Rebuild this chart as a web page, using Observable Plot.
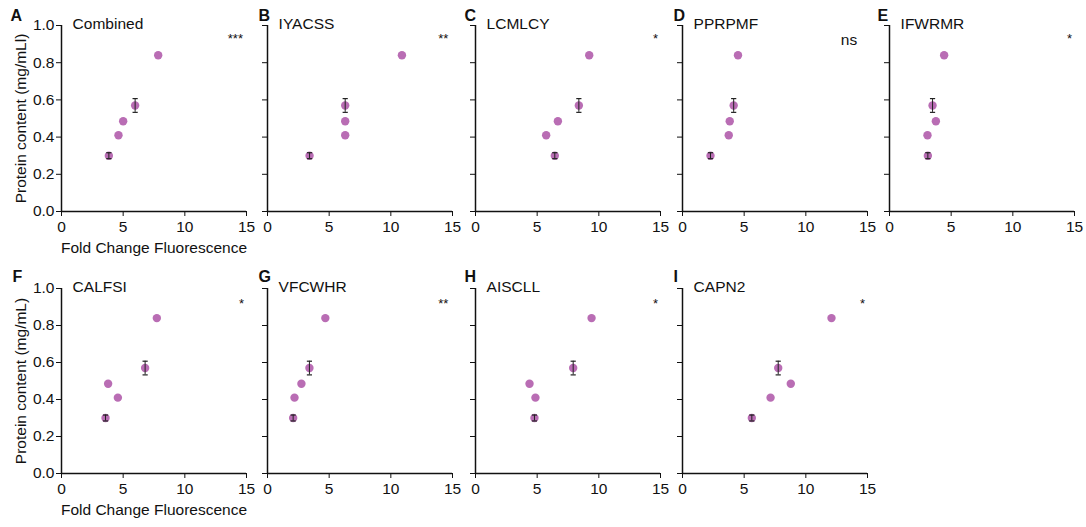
<!DOCTYPE html>
<html><head><meta charset="utf-8">
<script src="https://cdn.jsdelivr.net/npm/d3@7"></script>
<script src="https://cdn.jsdelivr.net/npm/@observablehq/plot@0.6"></script>
<style>
body{margin:0;background:#fff;font-family:"Liberation Sans",Arial,sans-serif;}
#wrap{position:relative;width:1086px;height:527px;overflow:hidden;}
#wrap svg{position:absolute;overflow:visible;background:transparent;}
</style></head><body><div id="wrap"></div>
<script>
// ---------- data ----------
const panelLetters = ["A","B","C","D","E","F","G","H","I"];
const panelNames = ["Combined","IYACSS","LCMLCY","PPRPMF","IFWRMR","CALFSI","VFCWHR","AISCLL","CAPN2"];
const significance = ["***","**","*","ns","*","*","**","*","*"];
const proteinLevels = [0.30, 0.41, 0.485, 0.57, 0.84];
const proteinErr = [0.016, 0, 0, 0.037, 0];
const foldA = [3.84, 4.62, 5.00, 5.97, 7.84];
const foldB = [3.41, 6.30, 6.30, 6.30, 10.90];
const foldC = [6.43, 5.73, 6.68, 8.38, 9.22];
const foldD = [2.27, 3.75, 3.83, 4.15, 4.50];
const foldE = [3.11, 3.08, 3.76, 3.49, 4.43];
const foldF = [3.57, 4.57, 3.78, 6.78, 7.73];
const foldG = [2.08, 2.19, 2.75, 3.40, 4.69];
const foldH = [4.78, 4.86, 4.38, 7.92, 9.41];
const foldI = [5.62, 7.14, 8.78, 7.76, 12.08];
const foldChange = [foldA, foldB, foldC, foldD, foldE, foldF, foldG, foldH, foldI];
const xTicks = [0, 5, 10, 15];
const yTicks = [0, 0.2, 0.4, 0.6, 0.8, 1.0];
const xLabel = "Fold Change Fluorescence";
const yLabels = ["Protein content (mg/mLl)", "Protein content (mg/mL)"];

// ---------- layout ----------
const axisLeft = [[61, 267, 475, 682, 889], [61, 267, 475, 682]];
const letterDx = [[-51, -9, -11, -9, -12], [-49, -9, -11, -9]];
const rowTop = [0, 260];
const rowMarginTop = [25, 28];
const rowPlotH = [186, 185];
const rowSvgH = [260, 267];
const plotW = 185;
const sigX = {"***": 14.1, "**": 14.25, "*": 14.6, "ns": 13.5};
const purple = "#b96db4";
const FS = 15.5;
const capSymbol = {draw(ctx) { ctx.moveTo(-2.6, 0); ctx.lineTo(2.6, 0); }};

const wrap = document.getElementById("wrap");
let k = 0;
for (let r = 0; r < 2; r++) {
  for (let c = 0; c < axisLeft[r].length; c++, k++) {
    const first = c === 0;
    const mL = first ? 61 : 20;
    const mR = 16;
    const rows = proteinLevels.map((y, i) => ({x: foldChange[k][i], y, lo: y - proteinErr[i], hi: y + proteinErr[i], e: proteinErr[i]}));
    const errRows = rows.filter(d => d.e > 0);
    const sig = significance[k];
    const svg = Plot.plot({
      width: mL + plotW + mR,
      height: rowSvgH[r],
      marginLeft: mL,
      marginRight: mR,
      marginTop: rowMarginTop[r],
      marginBottom: rowSvgH[r] - rowMarginTop[r] - rowPlotH[r],
      style: {fontFamily: "Liberation Sans, Arial, sans-serif", fontSize: FS + "px", background: "transparent", overflow: "visible", color: "#111"},
      x: {domain: [0, 15], ticks: xTicks, tickSize: 5, tickPadding: 4, label: first ? xLabel : null, labelAnchor: "center", labelOffset: 41, labelArrow: "none"},
      y: {domain: [0, 1], ticks: yTicks, tickSize: 5, tickPadding: 2, tickFormat: first ? d3.format(".1f") : () => "", label: first ? yLabels[r] : null, labelAnchor: "center", labelOffset: 47, labelArrow: "none"},
      marks: [
        Plot.ruleX([0], {stroke: "#111", strokeWidth: 1.5}),
        Plot.ruleY([0], {stroke: "#111", strokeWidth: 1.5}),
        Plot.dot(rows, {x: "x", y: "y", r: 4.2, fill: purple, stroke: "none"}),
        Plot.ruleX(errRows, {x: "x", y1: "lo", y2: "hi", stroke: "#222", strokeWidth: 1}),
        Plot.dot(errRows, {x: "x", y: "lo", symbol: capSymbol, fill: "none", stroke: "#222", strokeWidth: 1.2}),
        Plot.dot(errRows, {x: "x", y: "hi", symbol: capSymbol, fill: "none", stroke: "#222", strokeWidth: 1.2}),
        Plot.text([panelNames[k]], {x: 0.9, y: 1.0, text: d => d, textAnchor: "start", lineAnchor: "middle", dy: -1, fill: "#111"}),
        Plot.text([panelLetters[k]], {frameAnchor: "top-left", text: d => d, textAnchor: "start", lineAnchor: "middle", dx: letterDx[r][c], dy: r === 0 ? -10 : -12, fontWeight: "bold", fontSize: 16, fill: "#111"}),
        Plot.text([sig], {x: sigX[sig], y: sig === "ns" ? 0.92 : (r === 0 ? 0.95 : 0.94), text: d => d, textAnchor: "middle", lineAnchor: "middle", fontSize: sig === "ns" ? FS : 13, dy: sig === "ns" ? 0 : 4, fill: "#111"})
      ]
    });
    svg.style.left = (axisLeft[r][c] - mL) + "px";
    svg.style.top = rowTop[r] + "px";
    wrap.appendChild(svg);
  }
}
</script></body></html>
